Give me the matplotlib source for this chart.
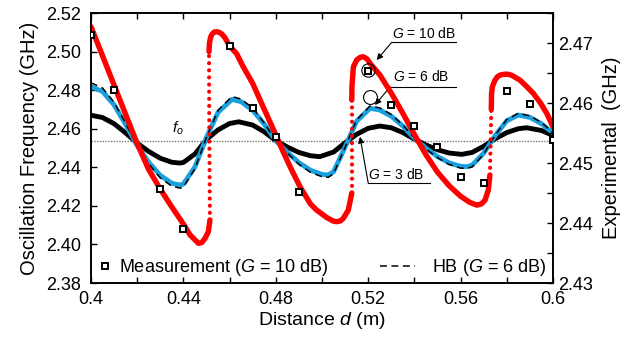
import matplotlib
matplotlib.use('Agg')
import matplotlib.pyplot as plt
from matplotlib.lines import Line2D
from matplotlib.ticker import MultipleLocator, FixedLocator, FixedFormatter, FormatStrFormatter

plt.rcParams['font.family'] = 'Liberation Sans'
plt.rcParams['mathtext.fontset'] = 'custom'
plt.rcParams['mathtext.rm'] = 'Liberation Sans'
plt.rcParams['mathtext.it'] = 'Liberation Sans:italic'

# free-running frequency
fo = 2.4538

# G = 3 dB (black)
g3_x = [0.400, 0.405, 0.410, 0.415, 0.420, 0.425, 0.430, 0.435, 0.4385, 0.440, 0.445, 0.450, 0.455, 0.460,
        0.464, 0.470, 0.475, 0.480, 0.485, 0.490, 0.495, 0.499, 0.505, 0.510, 0.515, 0.520, 0.525, 0.530,
        0.535, 0.540, 0.545, 0.550, 0.555, 0.5605, 0.565, 0.570, 0.575, 0.580, 0.585, 0.5886, 0.595, 0.600]
g3_y = [2.4670, 2.4658, 2.4626, 2.4578, 2.4525, 2.4482, 2.4447, 2.4426, 2.4422, 2.4425, 2.4469, 2.4544, 2.4594, 2.4627,
        2.4636, 2.4619, 2.4584, 2.4538, 2.4505, 2.4477, 2.4460, 2.4455, 2.4479, 2.4527, 2.4571, 2.4602, 2.4614, 2.4605,
        2.4580, 2.4546, 2.4516, 2.4491, 2.4474, 2.4467, 2.4477, 2.4509, 2.4548, 2.4580, 2.4600, 2.4605, 2.4591, 2.4565]

# G = 6 dB (blue) and HB (dashed)
g6_x = [0.400, 0.405, 0.410, 0.415, 0.420, 0.425, 0.430, 0.435, 0.4385, 0.440, 0.445, 0.450, 0.455, 0.461, 0.465,
        0.470, 0.475, 0.480, 0.485, 0.490, 0.495, 0.500, 0.5027, 0.505, 0.510, 0.515, 0.5208, 0.525, 0.530, 0.535,
        0.540, 0.545, 0.550, 0.555, 0.560, 0.5626, 0.565, 0.570, 0.575, 0.580, 0.585, 0.590, 0.595, 0.600]
g6_y = [2.4818, 2.4793, 2.4724, 2.4622, 2.4513, 2.4426, 2.4358, 2.4317, 2.4308, 2.4313, 2.4402, 2.4555, 2.4685, 2.4752, 2.4740,
        2.4696, 2.4624, 2.4538, 2.4478, 2.4424, 2.4385, 2.4363, 2.4360, 2.4377, 2.4505, 2.4639, 2.4706, 2.4697, 2.4665, 2.4614,
        2.4551, 2.4499, 2.4456, 2.4423, 2.4405, 2.4403, 2.4411, 2.4473, 2.4565, 2.4641, 2.4671, 2.4659, 2.4626, 2.4577]
hb_y = [2.4838, 2.4811, 2.4737, 2.4628, 2.4511, 2.4418, 2.4345, 2.4302, 2.4292, 2.4297, 2.4392, 2.4556, 2.4695, 2.4767, 2.4754,
        2.4707, 2.4630, 2.4538, 2.4474, 2.4416, 2.4374, 2.4351, 2.4348, 2.4366, 2.4503, 2.4646, 2.4718, 2.4708, 2.4674, 2.4619,
        2.4552, 2.4496, 2.4450, 2.4415, 2.4396, 2.4394, 2.4402, 2.4468, 2.4567, 2.4648, 2.4680, 2.4667, 2.4632, 2.4580]

# G = 10 dB (red), stable branches
red1_x = [0.400, 0.405, 0.410, 0.415, 0.420, 0.425, 0.430, 0.435, 0.440, 0.4429, 0.4465, 0.4480, 0.4494, 0.4508, 0.4515]
red1_y = [2.5129, 2.4978, 2.4826, 2.4674, 2.4523, 2.4388, 2.4287, 2.4194, 2.4106, 2.4049, 2.4006, 2.4010, 2.4032, 2.4066, 2.4127]
red2_x = [0.4511, 0.4513, 0.4518, 0.4525, 0.4535, 0.4544, 0.4555, 0.4567, 0.4580, 0.4599, 0.4630, 0.4659, 0.4700, 0.4732,
          0.4770, 0.4804, 0.4830, 0.4862, 0.4905, 0.4950, 0.4977, 0.5020, 0.5049, 0.5064, 0.5080, 0.5092, 0.5114, 0.5129]
red2_y = [2.5000, 2.5045, 2.5075, 2.5092, 2.5102, 2.5103, 2.5100, 2.5090, 2.5072, 2.5030, 2.4990, 2.4921, 2.4835, 2.4749,
          2.4648, 2.4558, 2.4486, 2.4403, 2.4299, 2.4210, 2.4178, 2.4140, 2.4121, 2.4118, 2.4122, 2.4135, 2.4178, 2.4267]
red3_x = [0.5129, 0.5130, 0.5136, 0.5150, 0.5165, 0.5179, 0.5195, 0.5208, 0.5251, 0.5300, 0.5350, 0.5400, 0.5450,
          0.5500, 0.5550, 0.5600, 0.5640, 0.5670, 0.5690, 0.5706, 0.5720, 0.5727]
red3_y = [2.4749, 2.4826, 2.4921, 2.4956, 2.4970, 2.4973, 2.4962, 2.4939, 2.4878, 2.4785, 2.4680, 2.4570, 2.4465,
          2.4375, 2.4305, 2.4250, 2.4218, 2.4204, 2.4210, 2.4230, 2.4282, 2.4360]
red4_x = [0.5733, 0.5734, 0.5738, 0.5749, 0.5760, 0.5771, 0.5787, 0.5802, 0.5820, 0.5857, 0.5885, 0.5915, 0.5945, 0.5973, 0.6000]
red4_y = [2.4700, 2.4780, 2.4820, 2.4852, 2.4870, 2.4878, 2.4882, 2.4883, 2.4878, 2.4852, 2.4820, 2.4783, 2.4735, 2.4680, 2.4610]
# red jumps (sparse dots)
jump1_x = [0.4515, 0.4512, 0.4511]
jump1_y = [2.4127, 2.4600, 2.5000]
jump2_x = [0.5129, 0.5129]
jump2_y = [2.4267, 2.4749]
jump3_x = [0.5727, 0.5733]
jump3_y = [2.4360, 2.4700]

# measurements (right axis, GHz)
meas_x = [0.40, 0.41, 0.43, 0.44, 0.46, 0.47, 0.48, 0.49, 0.52, 0.53, 0.54, 0.55, 0.56, 0.57, 0.58, 0.59, 0.60]
meas_y = [2.4713, 2.4621, 2.4457, 2.4390, 2.4695, 2.4591, 2.4543, 2.4451, 2.4654, 2.4597, 2.4561, 2.4527,
          2.4477, 2.4467, 2.4620, 2.4598, 2.4538]

xticks = [0.40, 0.44, 0.48, 0.52, 0.56, 0.60]
xticklabels = ['0.4', '0.44', '0.48', '0.52', '0.56', '0.6']

RED = '#ff0000'
BLUE = '#1aa0dc'

fig = plt.figure(figsize=(6.43, 3.37), dpi=100)
ax = fig.add_axes([0.1415, 0.1602, 0.7185, 0.8012])

ax.axhline(fo, color='#777777', lw=1.0, linestyle=(0, (1, 1)), zorder=1)
ax.plot(g3_x, g3_y, color='k', lw=3.5, solid_capstyle='butt', zorder=2)
ax.plot(g6_x, g6_y, color=BLUE, lw=3.5, solid_capstyle='butt', zorder=3)
ax.plot(g6_x, hb_y, color='k', lw=1.1, linestyle=(0, (4.5, 3)), zorder=4)

for xs, ys in [(red1_x, red1_y), (red2_x, red2_y), (red3_x, red3_y), (red4_x, red4_y)]:
    ax.plot(xs, ys, color=RED, lw=3.9, solid_capstyle='round', zorder=5)
for xs, ys in [(jump1_x, jump1_y), (jump2_x, jump2_y), (jump3_x, jump3_y)]:
    ax.plot(xs, ys, color=RED, lw=3.0, linestyle=(0, (0.01, 1.7)), dash_capstyle='round', zorder=5)

ax.set_xlim(0.4, 0.6)
ax.set_ylim(2.38, 2.52)
ax.xaxis.set_major_locator(FixedLocator(xticks))
ax.xaxis.set_major_formatter(FixedFormatter(xticklabels))
ax.xaxis.set_minor_locator(MultipleLocator(0.02))
ax.yaxis.set_major_locator(MultipleLocator(0.02))
ax.yaxis.set_major_formatter(FormatStrFormatter('%.2f'))
ax.tick_params(which='both', direction='in', top=True, right=False, length=4, width=1.0,
               labelsize=13, colors='k')
ax.tick_params(axis='y', pad=7)
ax.tick_params(axis='x', pad=6)
for sp in ax.spines.values():
    sp.set_linewidth(1.2)

ax.set_xlabel('Distance $d$ (m)', fontsize=14, labelpad=1)
ax.set_ylabel('Oscillation Frequency (GHz)', fontsize=14.5, labelpad=5)

# annotations
ax.text(0.4377, 2.4604, '$f_o$', fontsize=11, ha='center', va='center')

ax.plot([0.52004], [2.49042], marker='o', ms=9.6, mfc='none', mec='k', mew=0.8, zorder=7)
ax.plot([0.52078], [2.47658], marker='o', ms=10, mfc='none', mec='k', mew=0.8, zorder=7)

ax.text(0.5442, 2.5096, '$G$ = 10 dB', fontsize=10, ha='center', va='center')
ax.plot([0.53017, 0.55801], [2.50478, 2.50478], color='k', lw=0.8)
ax.annotate('', xy=(0.52368, 2.4956), xytext=(0.53017, 2.50478),
            arrowprops=dict(arrowstyle='-|>', color='k', lw=0.8, mutation_scale=9, shrinkA=0, shrinkB=0))

ax.text(0.5429, 2.48695, '$G$ = 6 dB', fontsize=10, ha='center', va='center')
ax.plot([0.52944, 0.55788], [2.48161, 2.48161], color='k', lw=0.8)
ax.annotate('', xy=(0.52294, 2.47228), xytext=(0.52944, 2.48161),
            arrowprops=dict(arrowstyle='-|>', color='k', lw=0.8, mutation_scale=9, shrinkA=0, shrinkB=0))

ax.text(0.53234, 2.43651, '$G$ = 3 dB', fontsize=10, ha='center', va='center')
ax.plot([0.52004, 0.54675], [2.43168, 2.43168], color='k', lw=0.8)
ax.annotate('', xy=(0.51645, 2.45584), xytext=(0.52004, 2.43168),
            arrowprops=dict(arrowstyle='-|>', color='k', lw=0.8, mutation_scale=9, shrinkA=0, shrinkB=0))

# right axis with measurements
ax2 = ax.twinx()
ax2.set_ylim(2.43, 2.475)
ax2.plot(meas_x, meas_y, linestyle='none', marker='s', ms=4.3, mfc='white', mec='k', mew=1.4, zorder=10)
ax2.yaxis.set_major_locator(MultipleLocator(0.01))
ax2.yaxis.set_minor_locator(MultipleLocator(0.005))
ax2.yaxis.set_major_formatter(FormatStrFormatter('%.2f'))
ax2.tick_params(which='both', direction='in', length=4, width=1.0, labelsize=13, pad=4)
ax2.set_ylabel('Experimental  (GHz)', fontsize=14.5, labelpad=6)
for sp in ax2.spines.values():
    sp.set_linewidth(1.2)

h1 = Line2D([], [], linestyle='none', marker='s', ms=4.3, mfc='white', mec='k', mew=1.4)
h2 = Line2D([], [], color='k', lw=1.1, linestyle=(0, (4.5, 3)))
leg1 = ax2.legend([h1], ['Measurement ($G$ = 10 dB)'], loc='center left', bbox_to_anchor=(0.015, 0.056),
                  frameon=False, fontsize=13, handlelength=0.8, handletextpad=0.35, borderpad=0, borderaxespad=0)
ax2.add_artist(leg1)
ax2.legend([h2], ['HB ($G$ = 6 dB)'], loc='center right', bbox_to_anchor=(0.985, 0.056),
           frameon=False, fontsize=13, handlelength=1.95, handletextpad=0.9, borderpad=0, borderaxespad=0)

fig.savefig('out.png', dpi=100)
